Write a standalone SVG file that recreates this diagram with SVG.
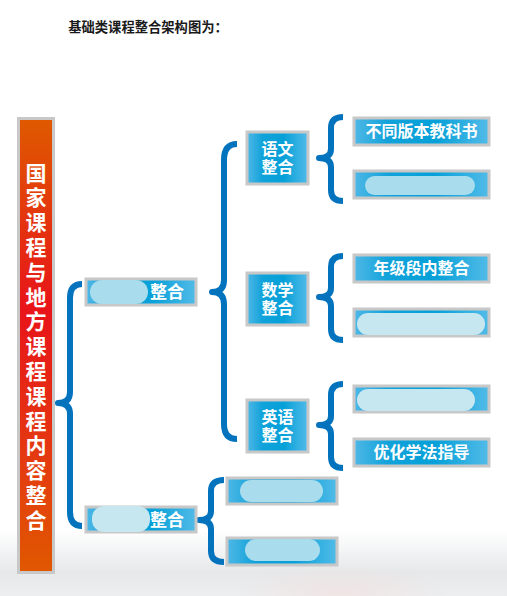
<svg xmlns="http://www.w3.org/2000/svg" width="507" height="596" viewBox="0 0 507 596">
<defs>
  <linearGradient id="bg" x1="0" y1="0" x2="0" y2="1">
    <stop offset="0" stop-color="#ffffff"/>
    <stop offset="0.89" stop-color="#ffffff"/>
    <stop offset="0.96" stop-color="#e6e8ea"/>
    <stop offset="1" stop-color="#eceef0"/>
  </linearGradient>
  <linearGradient id="blue" x1="0" y1="0" x2="1" y2="0">
    <stop offset="0" stop-color="#4fb8e6"/>
    <stop offset="0.25" stop-color="#12a2da"/>
    <stop offset="0.6" stop-color="#06a0d8"/>
    <stop offset="1" stop-color="#52bbe8"/>
  </linearGradient>
  <linearGradient id="orange" x1="0" y1="0" x2="0" y2="1">
    <stop offset="0" stop-color="#df5a00"/>
    <stop offset="0.42" stop-color="#e8141a"/>
    <stop offset="0.75" stop-color="#e43a10"/>
    <stop offset="1" stop-color="#e05800"/>
  </linearGradient>
  <radialGradient id="haze" cx="0.5" cy="0.5" r="0.5">
    <stop offset="0" stop-color="#f4dcd8" stop-opacity="0.5"/>
    <stop offset="1" stop-color="#f4dcd8" stop-opacity="0"/>
  </radialGradient>
</defs>
<style>
  .box { fill: url(#blue); stroke: #c8c8c8; stroke-width: 3; }
  .brace { fill: none; stroke: #0473bd; stroke-width: 6; stroke-linejoin: round; }
  .t { font-family: "Liberation Sans", "Noto Sans CJK SC", sans-serif; font-weight: bold; fill: #ffffff; text-anchor: middle; dominant-baseline: central; }
  .leaf { font-size: 16px; }
  .subj { font-size: 16px; }
  .root { font-size: 21px; }
  .blob { fill: #a9dcec; }
  .blob2 { fill: #c6e7f0; }
</style>
<rect x="0" y="0" width="507" height="596" fill="url(#bg)"/>
<ellipse cx="340" cy="592" rx="110" ry="28" fill="url(#haze)"/>

<text x="148" y="27" font-family="Liberation Sans, Noto Sans CJK SC, sans-serif" font-weight="bold" font-size="13.3" fill="#1a1a1a" text-anchor="middle" dominant-baseline="central">基础类课程整合架构图为：</text>

<g id="connectors">
  <path class="brace" d="M82,284 Q70,284 70,298 L70,392 Q70,403 58,403 Q70,403 70,414 L70,512 Q70,526 82,526"/>
  <path class="brace" d="M237,144 Q224,144 224,160 L224,280 Q224,292 212,292 Q224,292 224,304 L224,424 Q224,439 237,439"/>
  <path class="brace" d="M343,117 Q331,117 331,128 L331,149 Q331,158 319,158 Q331,158 331,167 L331,190 Q331,201 343,201"/>
  <path class="brace" d="M343,256 Q331,256 331,267 L331,288 Q331,297 319,297 Q331,297 331,306 L331,329 Q331,340 343,340"/>
  <path class="brace" d="M343,384 Q331,384 331,395 L331,416 Q331,425 319,425 Q331,425 331,434 L331,457 Q331,468 343,468"/>
  <path class="brace" d="M224,480 Q211,480 211,491 L211,511 Q211,520 199,520 Q211,520 211,529 L211,551 Q211,562 224,562"/>
</g>

<g id="root">
  <rect x="18.5" y="118.5" width="35" height="454" fill="url(#orange)" stroke="#c8c8c8" stroke-width="3"/>
  <text class="t root" x="36" y="173">国</text>
  <text class="t root" x="36" y="197.8">家</text>
  <text class="t root" x="36" y="222.6">课</text>
  <text class="t root" x="36" y="247.4">程</text>
  <text class="t root" x="36" y="272.2">与</text>
  <text class="t root" x="36" y="297">地</text>
  <text class="t root" x="36" y="321.8">方</text>
  <text class="t root" x="36" y="346.6">课</text>
  <text class="t root" x="36" y="371.4">程</text>
  <text class="t root" x="36" y="396.2">课</text>
  <text class="t root" x="36" y="421">程</text>
  <text class="t root" x="36" y="445.8">内</text>
  <text class="t root" x="36" y="470.6">容</text>
  <text class="t root" x="36" y="495.4">整</text>
  <text class="t root" x="36" y="520.2">合</text>
</g>

<g id="national">
  <rect class="box" x="86" y="279" width="110" height="26"/>
  <rect class="blob" x="90" y="280" width="58" height="24" rx="12"/>
  <text class="t" font-size="17" x="167" y="292">整合</text>
</g>

<g id="local">
  <rect class="box" x="86" y="507" width="110" height="25"/>
  <rect class="blob2" x="92" y="506" width="58" height="26" rx="12"/>
  <text class="t" font-size="17" x="167" y="520">整合</text>
</g>

<g id="chinese">
  <rect class="box" x="247" y="132" width="61" height="52"/>
  <text class="t subj" x="277.5" y="149">语文</text>
  <text class="t subj" x="277.5" y="167.5">整合</text>
</g>
<g id="math">
  <rect class="box" x="247" y="273" width="61" height="52"/>
  <text class="t subj" x="277.5" y="290">数学</text>
  <text class="t subj" x="277.5" y="308.5">整合</text>
</g>
<g id="english">
  <rect class="box" x="247" y="400" width="61" height="52"/>
  <text class="t subj" x="277.5" y="417">英语</text>
  <text class="t subj" x="277.5" y="435.5">整合</text>
</g>

<g id="leaf-textbooks">
  <rect class="box" x="354" y="118" width="135" height="27"/>
  <text class="t leaf" x="421.5" y="131.5">不同版本教科书</text>
</g>
<g id="leaf-chinese-2">
  <rect class="box" x="354" y="171" width="135" height="27"/>
  <rect class="blob" x="365" y="176" width="110" height="19" rx="9.5"/>
</g>
<g id="leaf-grade">
  <rect class="box" x="354" y="255" width="135" height="27"/>
  <text class="t leaf" x="421.5" y="268.5">年级段内整合</text>
</g>
<g id="leaf-math-2">
  <rect class="box" x="354" y="309" width="135" height="27"/>
  <rect class="blob2" x="357" y="313" width="128" height="22" rx="11"/>
</g>
<g id="leaf-english-1">
  <rect class="box" x="354" y="386" width="135" height="26"/>
  <rect class="blob2" x="357" y="389" width="118" height="22" rx="11"/>
</g>
<g id="leaf-study">
  <rect class="box" x="354" y="439" width="135" height="27"/>
  <text class="t leaf" x="421.5" y="452.5">优化学法指导</text>
</g>
<g id="leaf-local-1">
  <rect class="box" x="227" y="478" width="110" height="26"/>
  <rect class="blob" x="240" y="480" width="83" height="22" rx="11"/>
</g>
<g id="leaf-local-2">
  <rect class="box" x="227" y="538" width="110" height="27"/>
  <rect class="blob" x="245" y="539" width="75" height="22" rx="11"/>
</g>
</svg>
